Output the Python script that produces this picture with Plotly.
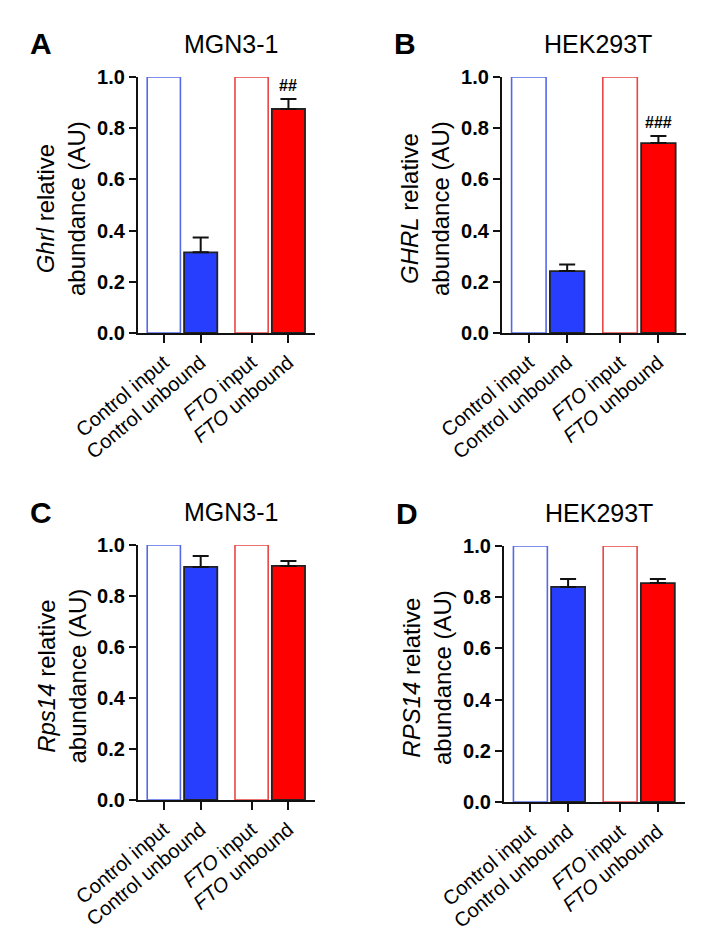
import plotly.graph_objects as go

# ---------------- data ----------------
categories = ["Control input", "Control unbound", "<i>FTO</i> input", "<i>FTO</i> unbound"]
y_ticks = [0.0, 0.2, 0.4, 0.6, 0.8, 1.0]

panel_letters = ["A", "B", "C", "D"]
panel_titles = ["MGN3-1", "HEK293T", "MGN3-1", "HEK293T"]
gene_labels = ["<i>Ghrl</i> relative", "<i>GHRL</i> relative", "<i>Rps14</i> relative", "<i>RPS14</i> relative"]

values_A = [1.0, 0.315, 1.0, 0.875]
errors_A = [0.0, 0.058, 0.0, 0.039]
values_B = [1.0, 0.242, 1.0, 0.742]
errors_B = [0.0, 0.026, 0.0, 0.028]
values_C = [1.0, 0.914, 1.0, 0.918]
errors_C = [0.0, 0.043, 0.0, 0.019]
values_D = [1.0, 0.840, 1.0, 0.855]
errors_D = [0.0, 0.031, 0.0, 0.016]

signif_A = ["", "", "", "##"]
signif_B = ["", "", "", "###"]
signif_C = ["", "", "", ""]
signif_D = ["", "", "", ""]

# ---------------- layout constants ----------------
W, H = 717, 942
FONT = "Liberation Sans, Arial, Helvetica, sans-serif"
xpos = [0, 1, 2.38, 3.38]
BLUE = "rgb(40,62,255)"
RED = "rgb(255,0,0)"
BLUE_OUT = "rgb(85,105,230)"
RED_OUT = "rgb(232,70,70)"

# pixel boxes: (x0, x1, ytop, ybottom)
boxes = [(138, 315, 77, 333), (502, 686, 77, 333), (138, 315, 545, 800), (504, 685, 546, 802)]

panels = [
    (values_A, errors_A, signif_A),
    (values_B, errors_B, signif_B),
    (values_C, errors_C, signif_C),
    (values_D, errors_D, signif_D),
]

fig = go.Figure()
annotations = []

for i, ((vals, errs, sig), box) in enumerate(zip(panels, boxes)):
    n = i + 1
    xa = "x" if n == 1 else f"x{n}"
    ya = "y" if n == 1 else f"y{n}"
    x0, x1, yt, yb = box

    # input bars (open)
    fig.add_trace(go.Bar(
        x=[xpos[0], xpos[2]], y=[vals[0], vals[2]], width=0.9,
        marker=dict(color="white", line=dict(color=[BLUE_OUT, RED_OUT], width=1.6)),
        xaxis=xa, yaxis=ya, showlegend=False, cliponaxis=False,
    ))
    # unbound bars (filled) with upward error bars
    fig.add_trace(go.Bar(
        x=[xpos[1], xpos[3]], y=[vals[1], vals[3]], width=0.9,
        marker=dict(color=[BLUE, RED], line=dict(color="#222222", width=1.8)),
        error_y=dict(type="data", symmetric=False, array=[errs[1], errs[3]],
                     arrayminus=[0, 0], color="#111111", thickness=2, width=8),
        xaxis=xa, yaxis=ya, showlegend=False, cliponaxis=False,
    ))

    for j in range(4):
        if sig[j]:
            annotations.append(dict(
                x=xpos[j], y=vals[j] + errs[j], xref=xa, yref=ya,
                text=f"<b>{sig[j]}</b>", showarrow=False, yanchor="bottom", yshift=3,
                font=dict(family=FONT, size=16, color="black"),
            ))

    fig.update_layout(**{
        ("xaxis" if n == 1 else f"xaxis{n}"): dict(
            domain=[x0 / W, x1 / W], anchor=ya, range=[-0.7, 4.1],
            tickmode="array", tickvals=xpos, ticktext=categories, tickangle=-40,
            ticks="outside", ticklen=8, tickwidth=2, tickcolor="#111",
            showline=True, linecolor="#111", linewidth=2.2,
            showgrid=False, zeroline=False, automargin=False,
            tickfont=dict(family=FONT, size=20, color="black"),
        ),
        ("yaxis" if n == 1 else f"yaxis{n}"): dict(
            domain=[1 - yb / H, 1 - yt / H], anchor=xa, range=[0, 1.0],
            tickmode="array", tickvals=y_ticks, tickformat=".1f",
            ticks="outside", ticklen=7, tickwidth=2, tickcolor="#111",
            showline=True, linecolor="#111", linewidth=2.2,
            showgrid=False, zeroline=False, automargin=False,
            tickfont=dict(family=FONT, size=20, color="black", weight="bold"),
        ),
    })

    # panel letter
    annotations.append(dict(
        x=(x0 - 110) / W, y=1 - (yt - 33) / H, xref="paper", yref="paper",
        text=f"<b>{panel_letters[i]}</b>", showarrow=False, xanchor="left", yanchor="middle",
        font=dict(family=FONT, size=30, color="black"),
    ))
    # panel title
    annotations.append(dict(
        x=(x0 + x1) / 2 / W + 4 / W, y=1 - (yt - 33) / H, xref="paper", yref="paper",
        text=panel_titles[i], showarrow=False, xanchor="center", yanchor="middle",
        font=dict(family=FONT, size=25, color="black"),
    ))
    # y-axis title (two lines)
    annotations.append(dict(
        x=(x0 - 77) / W, y=1 - ((yt + yb) / 2 + 4) / H, xref="paper", yref="paper",
        text=f"{gene_labels[i]}<br>abundance (AU)", showarrow=False, textangle=-90,
        xanchor="center", yanchor="middle",
        font=dict(family=FONT, size=24, color="black"),
    ))

fig.update_layout(
    width=W, height=H, margin=dict(l=0, r=0, t=0, b=0, autoexpand=False),
    paper_bgcolor="white", plot_bgcolor="white",
    barmode="overlay", annotations=annotations,
    font=dict(family=FONT, color="black"),
)

fig.write_html("out.html", config={"displayModeBar": False},
               post_script="document.body.style.margin='0';")
